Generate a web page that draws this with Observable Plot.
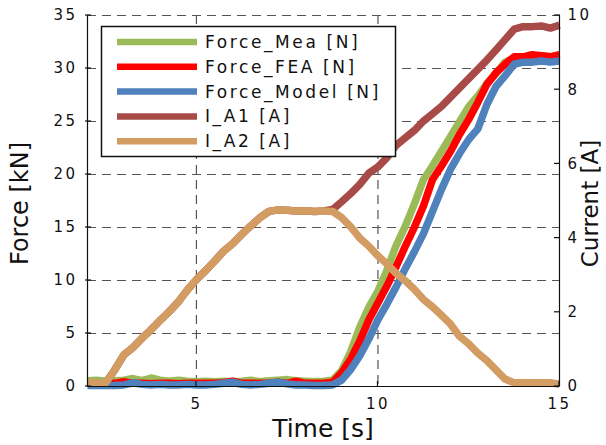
<!DOCTYPE html>
<html>
<head>
<meta charset="utf-8">
<script src="https://cdn.jsdelivr.net/npm/d3@7"></script>
<script src="https://cdn.jsdelivr.net/npm/@observablehq/plot@0.6"></script>
<style>
  html, body { margin: 0; padding: 0; background: #fff; }
  #chart { width: 606px; height: 445px; }
</style>
</head>
<body>
<div id="chart"></div>
<script>
// ---- data ----
const times = [2.0, 2.25, 2.5, 2.75, 3.0, 3.25, 3.5, 3.75, 4.0, 4.25, 4.5, 4.75, 5.0, 5.25, 5.5, 5.75, 6.0, 6.25, 6.5, 6.75, 7.0, 7.25, 7.5, 7.75, 8.0, 8.25, 8.5, 8.75, 9.0, 9.25, 9.5, 9.75, 10.0, 10.25, 10.5, 10.75, 11.0, 11.25, 11.5, 11.75, 12.0, 12.25, 12.5, 12.75, 13.0, 13.25, 13.5, 13.75, 14.0, 14.25, 14.5, 14.75, 15.0];

// Force [kN]
const forceMea = [0.55, 0.6, 0.5, 0.55, 0.6, 0.75, 0.55, 0.8, 0.6, 0.5, 0.6, 0.5, 0.45, 0.5, 0.45, 0.5, 0.45, 0.5, 0.6, 0.45, 0.55, 0.6, 0.65, 0.55, 0.5, 0.45, 0.5, 0.6,
  1.5, 3.3, 5.6, 7.5, 9.0, 11.0, 13.3, 15.1, 17.2, 19.5, 20.8, 22.2, 23.6, 25.0, 26.4, 27.4, 28.6, 29.5, 30.6, 31.0, 31.1, 31.1, 31.2, 31.1, 31.2];
const forceFEA = [0.3, 0.35, 0.3, 0.3, 0.45, 0.3, 0.3, 0.25, 0.3, 0.3, 0.25, 0.3, 0.3, 0.3, 0.3, 0.35, 0.5, 0.3, 0.3, 0.3, 0.3, 0.4, 0.3, 0.5, 0.3, 0.3, 0.3, 0.4,
  1.3, 2.6, 4.3, 6.3, 7.9, 9.5, 11.3, 13.2, 15.0, 17.0, 19.5, 20.8, 22.2, 23.8, 25.2, 26.8, 28.5, 29.6, 30.4, 31.1, 31.1, 31.3, 31.2, 31.1, 31.3];
const forceModel = [0.1, 0.1, 0.1, 0.1, 0.15, 0.35, 0.2, 0.15, 0.2, 0.15, 0.15, 0.2, 0.15, 0.15, 0.2, 0.3, 0.4, 0.2, 0.15, 0.2, 0.3, 0.4, 0.25, 0.15, 0.15, 0.1, 0.1, 0.15,
  0.6, 1.6, 2.9, 4.5, 6.3, 7.8, 9.4, 11.1, 12.7, 14.4, 16.5, 18.6, 20.5, 22.0, 23.3, 24.3, 26.6, 28.3, 29.3, 30.4, 30.6, 30.6, 30.7, 30.6, 30.7];

// Current [A]
const currentA1 = [0.1, 0.1, 0.1, 0.45, 0.85, 1.05, 1.3, 1.53, 1.78, 2.02, 2.28, 2.6, 2.88, 3.12, 3.38, 3.65, 3.85, 4.1, 4.33, 4.55, 4.72, 4.76, 4.75, 4.73, 4.74, 4.72, 4.73, 4.77,
  4.98, 5.2, 5.45, 5.75, 5.92, 6.17, 6.5, 6.7, 6.9, 7.15, 7.35, 7.55, 7.8, 8.05, 8.3, 8.55, 8.8, 9.07, 9.35, 9.63, 9.7, 9.7, 9.72, 9.66, 9.74];
const currentA2 = [0.1, 0.1, 0.1, 0.45, 0.85, 1.05, 1.3, 1.53, 1.78, 2.02, 2.28, 2.6, 2.88, 3.12, 3.38, 3.65, 3.85, 4.1, 4.33, 4.55, 4.72, 4.76, 4.75, 4.73, 4.74, 4.72, 4.73, 4.72,
  4.55, 4.3, 4.0, 3.78, 3.52, 3.3, 3.05, 2.85, 2.62, 2.35, 2.15, 1.92, 1.68, 1.35, 1.15, 0.9, 0.7, 0.45, 0.2, 0.1, 0.1, 0.1, 0.1, 0.1, 0.06];

const seriesNames = ["Force_Mea [N]", "Force_FEA [N]", "Force_Model [N]", "I_A1 [A]", "I_A2 [A]"];
const seriesColors = ["#9BBB59", "#FF0000", "#4F81BD", "#A84B48", "#D39C63"];

const forceTicks = [0, 5, 10, 15, 20, 25, 30, 35];
const currentTicks = [0, 2, 4, 6, 8, 10];
const timeTicks = [5, 10, 15];
const timeDomain = [2, 15];
const forceDomain = [0, 35];
const currentDomain = [0, 10];

// current is drawn on the force scale via the ratio of the two axis ranges
const k = forceDomain[1] / currentDomain[1];

const rows = (vals, scale) => times.map((t, i) => ({t, v: vals[i] * scale}));
const lineData = [
  rows(forceMea, 1), rows(forceFEA, 1), rows(forceModel, 1),
  rows(currentA1, k), rows(currentA2, k)
];

const font = "DejaVu Sans, Verdana, sans-serif";
const gridStyle = {stroke: "#555", strokeWidth: 1.2, strokeDasharray: "9,6"};

const chart = Plot.plot({
  width: 606,
  height: 445,
  marginLeft: 87,
  marginRight: 47,
  marginTop: 15,
  marginBottom: 59,
  style: {fontFamily: font, fontSize: "15px", background: "#fff", color: "#111", overflow: "visible"},
  x: {domain: timeDomain},
  y: {domain: forceDomain},
  marks: [
    Plot.ruleY(forceTicks.filter(d => d > 0), gridStyle),
    Plot.ruleX(timeTicks.filter(d => d < timeDomain[1]), gridStyle),
    ...lineData.map((d, i) => Plot.line(d, {
      x: "t", y: "v", stroke: seriesColors[i], strokeWidth: 7.5,
      strokeLinejoin: "round", strokeLinecap: "butt"
    })),
    Plot.ruleX([timeDomain[0], timeDomain[1]], {stroke: "#111", strokeWidth: 1.2}),
    Plot.ruleY([0], {stroke: "#111", strokeWidth: 1.2}),
    Plot.axisY(forceTicks, {anchor: "left", tickSize: 0, tickPadding: 10, label: null, fontSize: 15}),
    Plot.axisY(currentTicks.map(c => c * k), {anchor: "right", tickSize: 0, tickPadding: 8, label: null, fontSize: 15,
      tickFormat: d => String(Math.round(d / k))}),
    Plot.axisX(timeTicks, {anchor: "bottom", tickSize: 0, tickPadding: 12, label: null, fontSize: 15})
  ]
});

document.getElementById("chart").appendChild(chart);

const svg = d3.select(chart);
svg.selectAll("[aria-label='y-axis tick label'] text, [aria-label='x-axis tick label'] text")
  .style("letter-spacing", "2.5px");

const xs = chart.scale("x"), ys = chart.scale("y");
const x0 = xs.apply(timeDomain[0]), x1 = xs.apply(timeDomain[1]), y0 = ys.apply(0), yTop = ys.apply(forceDomain[1]);

// small inward tick marks
const tg = svg.append("g").attr("stroke", "#111").attr("stroke-width", 1.2);
forceTicks.forEach(d => tg.append("line").attr("x1", x0 - 2).attr("x2", x0 + 4).attr("y1", ys.apply(d)).attr("y2", ys.apply(d)));
currentTicks.forEach(c => tg.append("line").attr("x1", x1 - 5).attr("x2", x1 + 1).attr("y1", ys.apply(c * k)).attr("y2", ys.apply(c * k)));
timeTicks.forEach(t => tg.append("line").attr("x1", xs.apply(t)).attr("x2", xs.apply(t)).attr("y1", y0 - 5).attr("y2", y0));

// axis titles
const titleStyle = sel => sel.attr("text-anchor", "middle").attr("font-family", font).attr("fill", "#111");
svg.append("text").attr("transform", `translate(28,${(y0 + yTop) / 2 + 3}) rotate(-90)`)
  .call(titleStyle).attr("font-size", 24).text("Force [kN]");
svg.append("text").attr("transform", `translate(598,${(y0 + yTop) / 2 + 3}) rotate(-90)`)
  .call(titleStyle).attr("font-size", 23).text("Current [A]");
svg.append("text").attr("x", (x0 + x1) / 2).attr("y", 437)
  .call(titleStyle).attr("font-size", 25).text("Time [s]");

// legend
const lg = svg.append("g");
lg.append("rect").attr("x", 101.5).attr("y", 26.5).attr("width", 294).attr("height", 130)
  .attr("fill", "#fff").attr("stroke", "#111").attr("stroke-width", 1.5);
seriesNames.forEach((name, i) => {
  const cy = 42 + i * 24.8;
  lg.append("line").attr("x1", 117).attr("x2", 197).attr("y1", cy).attr("y2", cy)
    .attr("stroke", seriesColors[i]).attr("stroke-width", 6.5);
  lg.append("text").attr("x", 205).attr("y", cy + 6).attr("text-anchor", "start")
    .attr("font-family", font).attr("font-size", 17)
    .attr("letter-spacing", "2.6px").attr("fill", "#111").text(name);
});
</script>
</body>
</html>
